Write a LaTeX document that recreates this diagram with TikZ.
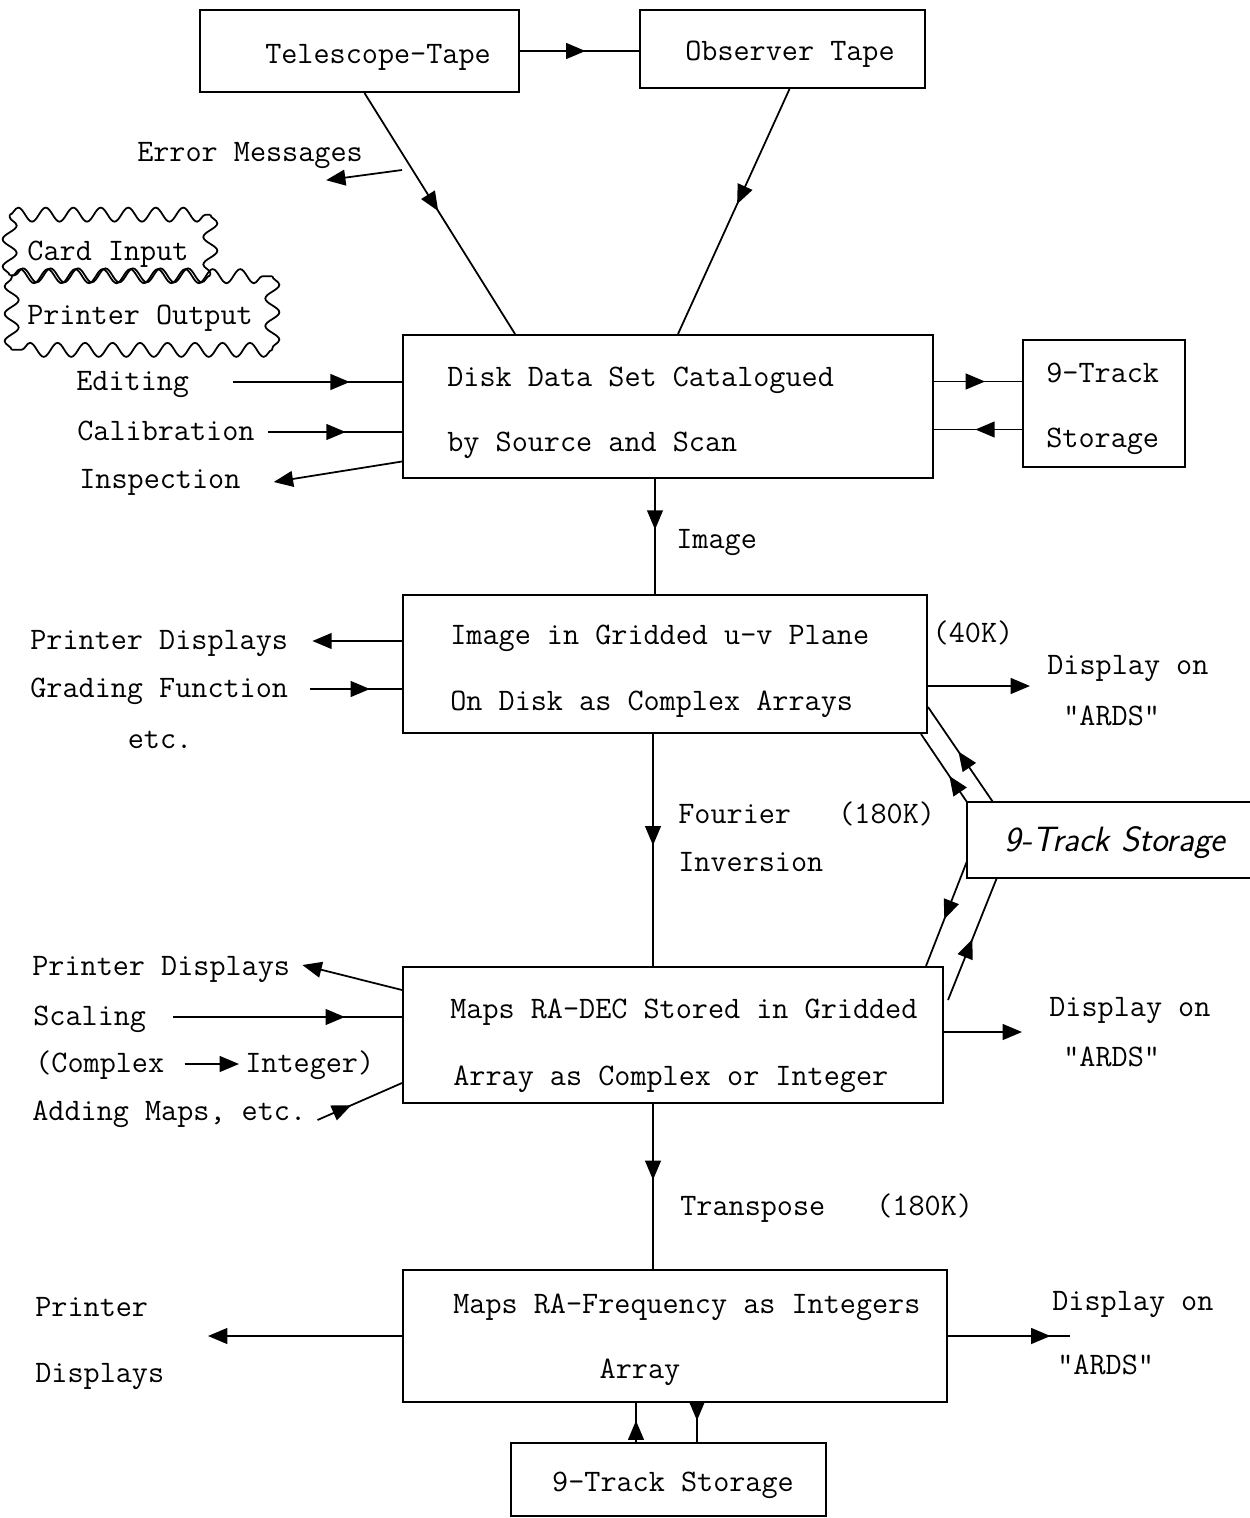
\documentclass[tikz,border=0pt]{standalone}
\usepackage{fontspec}
\usetikzlibrary{arrows.meta,calc,positioning,decorations.pathmorphing,decorations.markings}

\tikzset{
  every node/.style={font=\ttfamily\fontsize{17.8}{21}\selectfont},
  box/.style={rectangle, draw, line width=1.2pt, inner sep=0pt},
  lbl/.style={anchor=west, inner sep=0pt, text height=2.4ex, text depth=.2ex},
  txt/.style={inner sep=0pt, text height=2.4ex, text depth=.2ex},
  wavyline/.style={line width=1pt, decorate, decoration={snake, amplitude=1.4mm, segment length=5.5mm}},
  conn/.style={line width=1pt},
  tip/.style={-{Triangle[length=11pt,width=9pt]}},
  midtip/.style={postaction={decorate}, decoration={markings, mark=at position #1 with {\arrow{Triangle[length=11pt,width=9pt]}}}},
  midtip/.default=0.5
}

\begin{document}
\begin{tikzpicture}[x=0.02cm, y=-0.02cm]
\useasboundingbox (0,0) rectangle (1250,1518);

% tapes
\node[box, minimum width=6.38cm, minimum height=1.64cm] (tele) at (359.5,51) {};
\node[txt] (teletxt) at (378,55) {Telescope-Tape};
\node[box, minimum width=5.7cm, minimum height=1.56cm] (obs) at (782.5,49) {};
\node[txt] (obstxt) at (790,52) {Observer Tape};
\node[txt] (errtxt) at (250,153) {Error Messages};
\coordinate (errfrom) at (402,170);

% card input / printer output
\node[inner sep=0pt, minimum width=4cm, minimum height=1.2cm] (card) at (110,245) {};
\node[txt] (cardtxt) at (108,252) {Card Input};
\node[inner sep=0pt, minimum width=5.2cm, minimum height=1.46cm] (prnout) at (142,313) {};
\node[txt] (prnouttxt) at (140,316) {Printer Output};
\foreach \a/\b in {south west/north west, north west/north east, north east/south east, south east/south west}{
  \draw[wavyline] (card.\a) -- (card.\b);
  \draw[wavyline] (prnout.\a) -- (prnout.\b);
}

% disk data set
\node[box, minimum width=10.6cm, minimum height=2.86cm] (disk) at (668,406.5) {};
\node[lbl] (disk1) at (447,378) {Disk Data Set Catalogued};
\node[lbl] (disk2) at (447,443) {by Source and Scan};
\node[lbl] (edit) at (76,382) {Editing};
\node[lbl] (calib) at (77,432) {Calibration};
\node[lbl] (insp) at (79,480) {Inspection};
\node[box, minimum width=3.24cm, minimum height=2.54cm] (stor1) at (1104,403.5) {};
\node[lbl] (stor1a) at (1046,374) {9-Track};
\node[lbl] (stor1b) at (1046,439) {Storage};
\node[lbl] (imglbl) at (676,540) {Image};

% gridded u-v plane
\node[box, minimum width=10.48cm, minimum height=2.76cm] (img) at (665,664) {};
\node[lbl] (img1) at (450,636) {Image in Gridded u-v Plane};
\node[lbl] (img2) at (450,702) {On Disk as Complex Arrays};
\node[txt] (mem1) at (973,634) {(40K)};
\node[lbl] (pd1) at (30,641) {Printer Displays};
\node[lbl] (grad) at (30,689) {Grading Function};
\node[txt] (etc1) at (160,740) {etc.};
\node[lbl] (disp1) at (1047,666) {Display on};
\node[lbl] (ards1) at (1063,717) {"ARDS"};
\node[lbl] (four) at (678,815) {Fourier};
\node[lbl] (inv) at (678,863) {Inversion};
\node[lbl] (mem2) at (838,815) {(180K)};

% handwritten storage
\node[inner sep=0pt, minimum width=5.66cm, minimum height=1.52cm] (hs) at (1108.5,840) {};
\draw[line width=1.2pt] (hs.north east) -- (hs.north west) -- (hs.south west) -- (hs.south east);
\node[txt, font=\sffamily\itshape\fontsize{20}{24}\selectfont] (hstxt) at (1115,843) {9-Track Storage};

% maps RA-DEC
\node[box, minimum width=10.8cm, minimum height=2.72cm] (maps) at (673,1035) {};
\node[lbl] (maps1) at (450,1010) {Maps RA-DEC Stored in Gridded};
\node[lbl] (maps2) at (453,1077) {Array as Complex or Integer};
\node[lbl] (pd2) at (32,967) {Printer Displays};
\node[lbl] (scale) at (33,1017) {Scaling};
\node[lbl] (cplx) at (35,1064) {(Complex};
\node[lbl] (intg) at (245,1064) {Integer)};
\node[lbl] (add) at (32,1112) {Adding Maps, etc.};
\node[lbl] (disp2) at (1049,1008) {Display on};
\node[lbl] (ards2) at (1063,1058) {"ARDS"};
\node[lbl] (trans) at (680,1207) {Transpose};
\node[lbl] (mem3) at (876,1207) {(180K)};

% maps RA-frequency
\node[box, minimum width=10.88cm, minimum height=2.64cm] (freq) at (675,1336) {};
\node[lbl] (freq1) at (453,1305) {Maps RA-Frequency as Integers};
\node[txt] (freq2) at (640,1370) {Array};
\node[lbl] (prn) at (35,1308) {Printer};
\node[lbl] (dsp) at (35,1374) {Displays};
\coordinate (prnto) at (208,1336);
\node[lbl] (disp3) at (1052,1302) {Display on};
\node[lbl] (ards3) at (1057,1366) {"ARDS"};
\coordinate (disp3to) at (1070,1336);
\node[box, minimum width=6.3cm, minimum height=1.46cm] (stor3) at (668.5,1479.5) {};
\node[txt] (stor3txt) at (673,1483) {9-Track Storage};

% connectors
\draw[conn, midtip=.55] (tele.east) -- (tele.east -| obs.west);
\draw[conn, midtip=.49] ($(tele.south)+(5,0)$) -- ($(disk.north)+(-153,0)$);
\draw[conn, midtip=.47] ($(obs.south)+(7,0)$) -- ($(disk.north)+(10,0)$);
\draw[conn, tip] (errfrom) -- ($(errtxt.south east)+(-37,17)$);

\draw[conn, midtip=.69] ($(edit.east)+(44,0)$) -- (edit.east -| disk.west);
\draw[conn, midtip=.58] ($(calib.east)+(13,0)$) -- (calib.east -| disk.west);
\draw[conn, tip] ($(disk.west)+(0,55)$) -- ($(insp.east)+(33,2)$);
\draw[conn, midtip=.58] ($(disk.east)+(0,-25)$) -- ($(stor1.west)+(0,-22)$);
\draw[conn, midtip=.53] ($(stor1.west)+(0,26)$) -- ($(disk.east)+(0,23)$);
\draw[conn, midtip=.44] ($(disk.south)+(-13,0)$) -- ($(img.north)+(-10,0)$);

\draw[conn, tip] (pd1.east -| img.west) -- ($(pd1.east)+(24,0)$);
\draw[conn, midtip=.65] ($(grad.east)+(22,0)$) -- (grad.east -| img.west);
\draw[conn, tip] ($(img.east)+(0,22)$) -- ($(disp1.west)+(-17,20)$);
\draw[conn, midtip=.53] ($(hs.north west)+(26,0)$) -- ($(img.east)+(0,43)$);
\draw[conn, midtip=.38] (hs.north west) -- ($(img.south east)+(-7,0)$);
\draw[conn, midtip=.48] ($(img.south)+(-12,0)$) -- ($(maps.north)+(-20,0)$);

\draw[conn, midtip=.55] ($(hs.west)+(0,22)$) -- ($(maps.north east)+(-18,0)$);
\draw[conn, midtip=.5] ($(maps.east)+(4,-35)$) -- ($(hs.south west)+(30,0)$);

\draw[conn, tip] ($(maps.west)+(0,-45)$) -- ($(pd2.east)+(12,-2)$);
\draw[conn, midtip=.75] ($(scale.east)+(27,0)$) -- (scale.east -| maps.west);
\draw[conn, tip] ($(cplx.east)+(20,0)$) -- ($(intg.west)+(-6,0)$);
\draw[conn, midtip=.4] ($(add.east)+(11,8)$) -- ($(maps.west)+(0,48)$);
\draw[conn, tip] ($(maps.east)+(0,-3)$) -- ($(disp2.west)+(-27,24)$);
\draw[conn, midtip=.46] ($(maps.south)+(-20,0)$) -- ($(freq.north)+(-22,0)$);

\draw[conn, tip] (freq.west) -- (prnto);
\draw[conn, midtip=.84] (freq.east) -- (disp3to);
\draw[conn, midtip=.55] ($(stor3.north)+(-32.5,0)$) -- ($(freq.south)+(-39,0)$);
\draw[conn, midtip=.45] ($(freq.south)+(22,0)$) -- ($(stor3.north)+(28.5,0)$);
\end{tikzpicture}
\end{document}
